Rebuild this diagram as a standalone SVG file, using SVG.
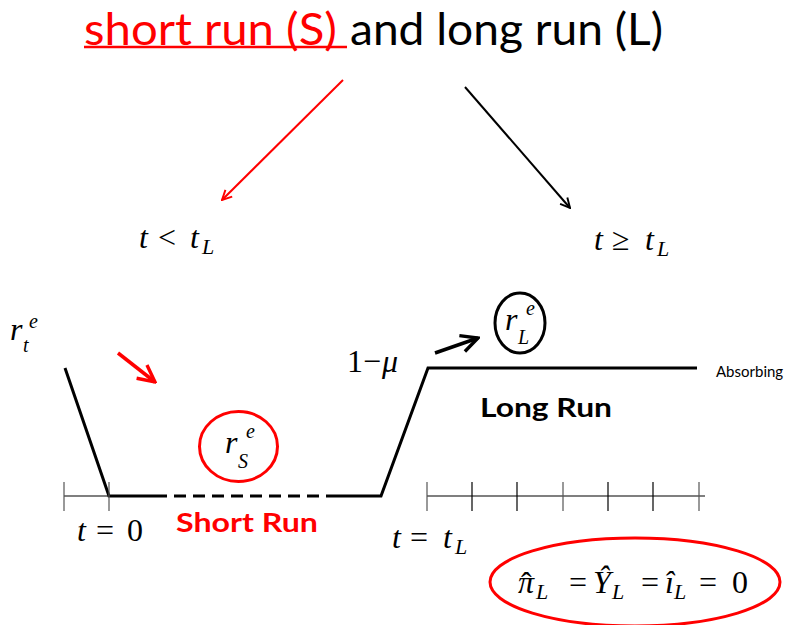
<svg xmlns="http://www.w3.org/2000/svg" width="807" height="625" viewBox="0 0 807 625">
<defs>
<style>
.m{font-family:"Liberation Serif","Times New Roman",serif;font-size:32px;fill:#000}
.i{font-style:italic}
.sb{font-family:"Liberation Serif","Times New Roman",serif;font-size:22px;font-style:italic;fill:#000}
.ss{font-family:"Liberation Serif","Times New Roman",serif;font-size:20px;font-style:italic;fill:#000}
.ln{stroke:#000;stroke-width:3;fill:none}
.ax{stroke:#000;stroke-width:1.2;fill:none}
.tk{stroke:#555;stroke-width:1.2}
.sans{font-family:Lato,"Liberation Sans",sans-serif}
</style>
<marker id="arR" viewBox="0 0 10 10" refX="9" refY="5" markerWidth="6" markerHeight="6" orient="auto" markerUnits="strokeWidth"><path d="M1,1 L9,5 L1,9" fill="none" stroke="#f00" stroke-width="1.6"/></marker>
<marker id="arK" viewBox="0 0 10 10" refX="9" refY="5" markerWidth="6" markerHeight="6" orient="auto" markerUnits="strokeWidth"><path d="M1,1 L9,5 L1,9" fill="none" stroke="#000" stroke-width="1.6"/></marker>
</defs>
<rect width="807" height="625" fill="#fff"/>

<g id="title">
<text x="84" y="45" class="sans" font-size="45" fill="#f00" textLength="253" lengthAdjust="spacingAndGlyphs">short run (S)</text>
<line x1="84" y1="47" x2="347" y2="47" stroke="#f00" stroke-width="2.5"/>
<text x="350" y="45" class="sans" font-size="45" fill="#000" textLength="313" lengthAdjust="spacingAndGlyphs">and long run (L)</text>
</g>

<g id="connectors">
<line x1="343" y1="80" x2="222" y2="200" stroke="#f00" stroke-width="2" marker-end="url(#arR)"/>
<line x1="465" y1="87" x2="570" y2="208" stroke="#000" stroke-width="2" marker-end="url(#arK)"/>
<line x1="118" y1="353" x2="155" y2="382" stroke="#f00" stroke-width="3.5" marker-end="url(#arR)"/>
<line x1="435" y1="353" x2="478" y2="338" stroke="#000" stroke-width="3.5" marker-end="url(#arK)"/>
</g>

<g id="cond-short">
<text x="139" y="248" class="m i">t</text>
<text x="158" y="248" class="m">&lt;</text>
<text x="190" y="248" class="m i">t</text>
<text x="202" y="254" class="sb">L</text>
</g>
<g id="cond-long">
<text x="594" y="250" class="m i">t</text>
<text x="612" y="250" class="m">≥</text>
<text x="645" y="250" class="m i">t</text>
<text x="657" y="256" class="sb">L</text>
</g>

<g id="rte">
<text x="10" y="340" class="m i">r</text>
<text x="29" y="328" class="ss">e</text>
<text x="23" y="352" class="ss">t</text>
</g>

<g id="path">
<polyline class="ln" points="65,368 109,496 155,496"/>
<line x1="155" y1="496" x2="337" y2="496" stroke="#000" stroke-width="3" stroke-dasharray="12,7"/>
<polyline class="ln" points="337,496 381,496 428,368 697,368"/>
</g>

<g id="axis-left">
<line class="ax" x1="64" y1="496" x2="109" y2="496"/>
<line class="tk" x1="64" y1="482" x2="64" y2="511"/>
<line class="tk" x1="109" y1="482" x2="109" y2="511"/>
</g>

<g id="axis-right">
<line class="ax" x1="427" y1="496" x2="705" y2="496"/>
<line class="tk" x1="427" y1="482" x2="427" y2="511"/>
<line class="ax" x1="472" y1="482" x2="472" y2="511"/>
<line class="ax" x1="517" y1="482" x2="517" y2="511"/>
<line class="tk" x1="563" y1="482" x2="563" y2="511"/>
<line class="ax" x1="608" y1="482" x2="608" y2="511"/>
<line class="ax" x1="653" y1="482" x2="653" y2="511"/>
<line class="tk" x1="699" y1="482" x2="699" y2="511"/>
</g>

<g id="rse">
<ellipse cx="238.5" cy="446.5" rx="39" ry="35" fill="none" stroke="#f00" stroke-width="3"/>
<text x="225" y="453" class="m i">r</text>
<text x="246" y="438" class="ss">e</text>
<text x="238" y="468" class="ss">S</text>
</g>

<g id="rle">
<ellipse cx="520" cy="323" rx="25" ry="30" fill="none" stroke="#000" stroke-width="3"/>
<text x="505" y="330" class="m i">r</text>
<text x="526" y="315" class="ss">e</text>
<text x="518" y="344" class="ss">L</text>
</g>

<g id="one-minus-mu">
<text x="347" y="372" class="m">1</text>
<text x="363" y="372" class="m">−</text>
<text x="382" y="372" class="m i">μ</text>
</g>

<g id="labels">
<text x="176" y="532" class="sans" font-size="26" font-weight="bold" fill="#f00" textLength="142" lengthAdjust="spacingAndGlyphs">Short Run</text>
<text x="480" y="417" class="sans" font-size="26" font-weight="bold" fill="#000" textLength="132" lengthAdjust="spacingAndGlyphs">Long Run</text>
<text x="716" y="377" class="sans" font-size="15" fill="#000">Absorbing</text>
</g>

<g id="t0">
<text x="77" y="541" class="m i">t</text>
<text x="96" y="541" class="m">=</text>
<text x="127" y="541" class="m">0</text>
</g>
<g id="ttl">
<text x="392" y="548" class="m i">t</text>
<text x="410" y="548" class="m">=</text>
<text x="443" y="548" class="m i">t</text>
<text x="455" y="554" class="sb">L</text>
</g>

<g id="zero-eq">
<ellipse cx="635" cy="582" rx="145" ry="44" fill="none" stroke="#f00" stroke-width="3"/>
<text x="518" y="593" class="m i">π</text>
<text x="521" y="594" class="m">ˆ</text>
<text x="536" y="599" class="sb">L</text>
<text x="569" y="593" class="m">=</text>
<text x="593" y="593" class="m i">Ŷ</text>
<text x="612" y="599" class="sb">L</text>
<text x="641" y="593" class="m">=</text>
<text x="665" y="593" class="m i">î</text>
<text x="674" y="599" class="sb">L</text>
<text x="699" y="593" class="m">=</text>
<text x="732" y="593" class="m">0</text>
</g>
</svg>
